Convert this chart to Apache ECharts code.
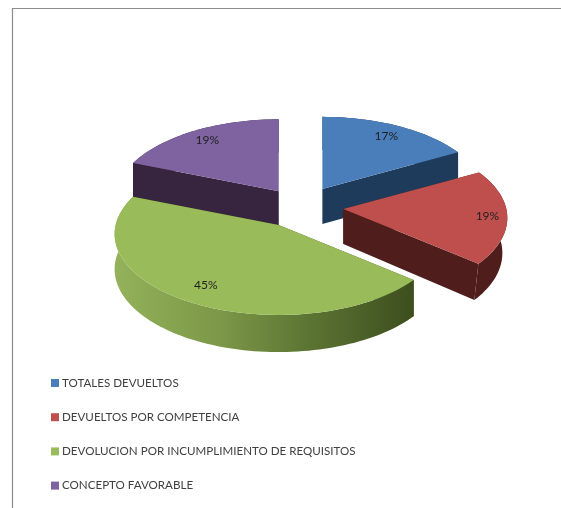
<!DOCTYPE html>
<html><head><meta charset="utf-8">
<style>html,body{margin:0;padding:0;background:#fff}#c{width:561px;height:508px}</style>
<script src="https://cdn.jsdelivr.net/npm/echarts@6/dist/echarts.min.js"></script>
</head><body><div id="c"></div>
<script>
const categories = ['TOTALES DEVUELTOS','DEVUELTOS POR COMPETENCIA','DEVOLUCION POR INCUMPLIMIENTO DE REQUISITOS','CONCEPTO FAVORABLE'];
const sliceValues = [17, 19, 45, 19];
const sliceColors = ['#4A7EBB','#BE4F4C','#9ABB59','#7F63A1'];
const cutColors = ['#1F3B5C','#4F1E1C','#3F5220','#37243F'];

const R = {cx:300.5, cy:207, rx:163, ry:80, persp:0.11, depth:35, ex:43, ey:21};
const explodeFactor = [1,1,1,0.9];
const wallTaper = [0,0.03,0,0];
const labelRadius = [0.83,0.88,0.81,0.84];
const drawRank = [1,2,3,0];
const total = sliceValues.reduce((a,b)=>a+b,0);
const angles = []; let acc = 0;
sliceValues.forEach(v=>{const s=acc/total*Math.PI*2; acc+=v; angles.push([s,acc/total*Math.PI*2]);});

function apex(i){
  const m=(angles[i][0]+angles[i][1])/2, f=explodeFactor[i];
  return [R.cx+Math.sin(m)*R.ex*f, R.cy-Math.cos(m)*R.ey*f];
}
function rim(a,t,r){
  const k=r==null?1:r, z=-Math.cos(t)*k, w=1/(1-R.persp*z);
  return {x:a[0]+Math.sin(t)*k*R.rx*w, y:a[1]+z*R.ry*w, w};
}
function arc(a,s,e){
  const pts=[], n=Math.max(8,Math.ceil((e-s)/0.03));
  for(let j=0;j<=n;j++) pts.push(rim(a,s+(e-s)*j/n));
  return pts;
}

function renderSlice(i){
  return function(){
    const a=apex(i), [s,e]=angles[i], base=drawRank[i]*10, pts=arc(a,s,e);
    const down=p=>[a[0]+(p.x-a[0])*(1-wallTaper[i]),p.y+R.depth*Math.sqrt(p.w)];
    const aBottom=[a[0],a[1]+R.depth];
    const children=[];
    [pts[0],pts[pts.length-1]].forEach(p=>{
      children.push({type:'polygon',z2:base,shape:{points:[a,[p.x,p.y],down(p),aBottom]},style:{fill:cutColors[i]}});
    });
    const xs=pts.map(p=>p.x), x0=Math.min(...xs), x1=Math.max(...xs);
    const fill = i===2 ? new echarts.graphic.LinearGradient(x0,0,x1,0,[
        {offset:0,color:'#93B25A'},{offset:0.35,color:'#7C9848'},{offset:0.65,color:'#5C7433'},{offset:1,color:'#3C4E1E'}],true)
      : cutColors[i];
    children.push({type:'polygon',z2:base+1,shape:{points:pts.map(p=>[p.x,p.y]).concat(pts.slice().reverse().map(down))},style:{fill}});
    children.push({type:'polygon',z2:base+2,shape:{points:[a].concat(pts.map(p=>[p.x,p.y]))},style:{fill:sliceColors[i]}});
    const l=rim(a,(s+e)/2,labelRadius[i]);
    children.push({type:'text',z2:base+3,style:{x:l.x,y:l.y,text:Math.round(sliceValues[i]/total*100)+'%',
      font:'12px Lato',fill:'#1f1f1f',align:'center',verticalAlign:'middle'}});
    return {type:'group',children};
  };
}

const chart=echarts.init(document.getElementById('c'),null,{renderer:'canvas'});
chart.setOption({
  animation:false,
  backgroundColor:'#fff',
  graphic:[{type:'polyline',shape:{points:[[12.5,508],[12.5,8.5],[561,8.5]]},style:{stroke:'#8c8c8c',lineWidth:1.2,fill:null},silent:true}],
  legend:{orient:'vertical',left:46,top:372,itemWidth:8,itemHeight:8,itemGap:22.2,icon:'rect',
    data:categories,textStyle:{fontFamily:'Lato',fontSize:11.6,color:'#404040',padding:[0,0,0,-2]},selectedMode:false},
  series:categories.map((name,i)=>({
    type:'custom',name,coordinateSystem:'none',z:drawRank[i]+2,
    itemStyle:{color:sliceColors[i]},
    data:[sliceValues[i]],
    renderItem:renderSlice(i)
  }))
});
</script></body></html>
